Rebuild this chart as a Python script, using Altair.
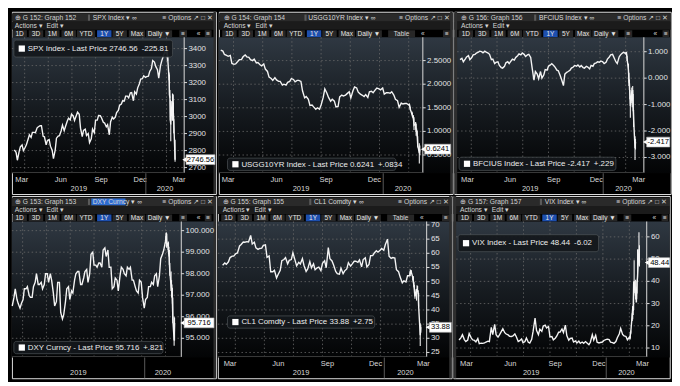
import altair as alt
import pandas as pd

# ---------------- sampling dates (Tue/Fri to Feb 18 2020, then daily) ----------------
ORIGIN = pd.Timestamp("2020-01-01")
base_dates = pd.date_range("2019-03-01", "2020-02-18", freq="W-FRI").union(
    pd.date_range("2019-03-01", "2020-02-18", freq="W-TUE"))
daily_dates = pd.bdate_range("2020-02-19", "2020-03-10")

# ---------------- series values read from the screens ----------------
spx_base = [2804, 2790, 2743, 2792, 2822, 2833, 2800, 2818, 2834,
            2867, 2893, 2878, 2907, 2907, 2905, 2934, 2940, 2946,
            2946, 2884, 2881, 2834, 2860, 2865, 2826, 2802, 2752,
            2803, 2873, 2885, 2887, 2917, 2950, 2917, 2942,
            2973, 2990, 2980, 3014, 3004, 2977, 3005, 3026, 3013,
            2932, 2882, 2919, 2926, 2889, 2900, 2847, 2869, 2926,
            2906, 2979, 2979, 3007, 3006, 2992, 2966, 2962,
            2940, 2952, 2893, 2970, 2996, 2986, 2996, 3023, 3036,
            3067, 3074, 3093, 3092, 3120, 3120, 3110, 3140, 3141,
            3093, 3146, 3132, 3169, 3193, 3221, 3223, 3240, 3231,
            3235, 3238, 3265, 3283, 3330, 3321, 3295, 3276, 3226,
            3298, 3328, 3358, 3380, 3370]
spx_daily = [3386, 3373, 3338, 3226, 3128, 3116, 2979, 2954, 3090, 3003, 3130, 3024, 2972.37, 2746.56]
spx_hi = [3393, 3385, 3360, 3259, 3247, 3156, 3097, 2959, 3091, 3136, 3130, 3083, 2985, 2863]
spx_lo = [3378, 3328, 3328, 3214, 3118, 3108, 2977, 2855, 2977, 2976, 3035, 2999, 2902, 2734]

ust_base = [2.72, 2.70, 2.63, 2.61, 2.59, 2.61, 2.44, 2.42, 2.43,
            2.48, 2.52, 2.52, 2.58, 2.62, 2.58, 2.57, 2.52, 2.50,
            2.53, 2.45, 2.46, 2.41, 2.39, 2.43, 2.32, 2.27, 2.15,
            2.12, 2.08, 2.14, 2.09, 2.06, 2.06, 1.98, 2.00,
            1.98, 2.04, 2.06, 2.12, 2.10, 2.05, 2.08, 2.08, 2.06,
            1.86, 1.71, 1.74, 1.68, 1.55, 1.56, 1.52, 1.47, 1.50,
            1.47, 1.56, 1.72, 1.90, 1.81, 1.72, 1.64, 1.68,
            1.64, 1.52, 1.53, 1.73, 1.77, 1.75, 1.77, 1.80, 1.84,
            1.71, 1.86, 1.94, 1.92, 1.83, 1.79, 1.77, 1.74, 1.78,
            1.72, 1.84, 1.85, 1.82, 1.88, 1.92, 1.90, 1.88, 1.92,
            1.79, 1.82, 1.82, 1.81, 1.84, 1.77, 1.68, 1.65, 1.51,
            1.60, 1.58, 1.59, 1.59, 1.56]
ust_daily = [1.57, 1.52, 1.47, 1.37, 1.33, 1.31, 1.26, 1.13, 1.16, 1.00, 1.00, 0.91, 0.71, 0.5407, 0.6241]
ust_hi = [1.59, 1.57, 1.52, 1.42, 1.40, 1.35, 1.34, 1.30, 1.20, 1.16, 1.06, 1.02, 0.90, 0.75, 0.70]
ust_lo = [1.55, 1.51, 1.45, 1.36, 1.30, 1.29, 1.25, 1.03, 1.04, 0.91, 0.95, 0.89, 0.66, 0.32, 0.50]

bfc_base = [0.70, 0.75, 0.62, 0.72, 0.80, 0.85, 0.70, 0.78, 0.88,
            0.90, 0.95, 0.98, 1.02, 1.00, 0.96, 1.02, 0.98, 0.95,
            0.90, 0.70, 0.72, 0.55, 0.60, 0.62, 0.48, 0.40, 0.38,
            0.45, 0.58, 0.62, 0.55, 0.65, 0.72, 0.68, 0.78,
            0.85, 0.92, 0.88, 0.95, 0.90, 0.82, 0.88, 0.90, 0.78,
            0.40, -0.08, 0.25, 0.15, -0.02, 0.25, 0.00, 0.12, 0.32,
            0.30, 0.45, 0.50, 0.55, 0.48, 0.42, 0.30, 0.28,
            0.10, -0.05, -0.28, 0.15, 0.22, 0.25, 0.30, 0.38, 0.42,
            0.48, 0.45, 0.50, 0.42, 0.48, 0.40, 0.38, 0.45, 0.42,
            0.35, 0.48, 0.45, 0.55, 0.58, 0.62, 0.60, 0.65, 0.62,
            0.55, 0.60, 0.72, 0.80, 0.88, 0.90, 0.78, 0.62, 0.55,
            0.80, 0.88, 0.95, 0.98, 0.92]
bfc_daily = [0.98, 0.90, 0.75, 0.30, -0.15, -0.20, -0.65, -1.05, -0.50, -0.85, -0.45, -1.10, -1.55, -2.646, -2.417]
bfc_hi = [1.00, 0.98, 0.85, 0.55, 0.20, -0.05, -0.45, -0.70, -0.35, -0.45, -0.30, -0.60, -1.20, -2.20, -2.30]
bfc_lo = [0.90, 0.85, 0.65, 0.20, -0.30, -0.45, -0.80, -1.50, -0.95, -1.10, -0.80, -1.25, -1.85, -3.10, -2.70]

dxy_base = [96.5, 96.9, 97.3, 96.8, 96.6, 96.4, 96.6, 96.8, 97.3,
            97.3, 97.4, 97.0, 96.9, 96.9, 97.4, 97.6, 98.0, 97.5,
            97.5, 97.6, 97.3, 97.5, 98.0, 98.0, 97.6, 98.0, 97.7,
            97.1, 96.5, 96.7, 97.6, 97.6, 96.2, 95.9, 96.1,
            96.7, 97.3, 97.4, 96.8, 97.2, 97.1, 97.7, 98.0, 98.1,
            98.1, 97.5, 97.5, 97.8, 98.1, 98.2, 97.6, 98.0, 98.9,
            99.0, 98.4, 98.4, 98.3, 98.5, 98.5, 98.3, 99.1,
            99.2, 98.8, 99.1, 98.3, 98.3, 97.3, 97.4, 97.8, 97.7,
            97.2, 97.9, 98.3, 98.2, 98.0, 97.9, 98.3, 98.2, 98.3,
            97.7, 97.7, 97.4, 97.2, 97.1, 97.7, 97.6, 96.9, 96.4,
            96.8, 96.9, 97.4, 97.4, 97.6, 97.5, 97.9, 98.0, 97.4,
            97.9, 98.7, 98.9, 99.1, 99.5]
dxy_daily = [99.7, 99.9, 99.3, 99.4, 99.0, 99.1, 98.5, 98.1, 97.4, 97.2, 97.3, 96.7, 95.9, 94.895, 95.716]
dxy_hi = [99.75, 99.91, 99.85, 99.50, 99.45, 99.25, 99.10, 98.50, 98.10, 97.70, 97.50, 97.35, 96.90, 96.00, 95.95]
dxy_lo = [99.40, 99.60, 99.20, 99.10, 98.90, 98.80, 98.40, 97.90, 97.20, 96.90, 96.90, 96.60, 95.70, 94.65, 94.90]

cl_base = [55.8, 56.6, 56.1, 57.0, 58.5, 59.0, 59.0, 59.9, 60.1,
           62.6, 63.1, 64.0, 63.9, 64.1, 64.0, 66.3, 63.3, 63.9,
           61.9, 61.4, 61.7, 61.8, 62.8, 63.0, 58.6, 59.1, 53.5,
           53.5, 54.0, 51.3, 52.5, 54.0, 57.4, 57.8, 58.5,
           56.3, 57.5, 57.8, 60.2, 57.6, 55.6, 56.8, 56.2, 58.1,
           55.7, 53.6, 54.5, 57.1, 54.9, 56.3, 54.2, 54.9, 55.1,
           53.9, 56.5, 57.4, 54.9, 62.0, 58.1, 57.3, 55.9,
           53.6, 52.8, 52.6, 54.7, 52.8, 53.8, 54.5, 56.7, 55.5,
           56.2, 57.2, 57.2, 56.8, 57.7, 55.2, 57.8, 58.4, 55.2,
           56.1, 59.2, 59.2, 60.1, 60.9, 60.4, 61.1, 61.7, 61.1,
           63.1, 65.0, 59.0, 58.2, 58.5, 58.3, 54.2, 53.5, 51.6,
           49.6, 50.3, 49.9, 52.1, 52.1]
cl_daily = [53.3, 53.8, 53.4, 51.4, 49.9, 48.7, 47.1, 44.8, 46.8, 47.2, 46.8, 45.9, 41.3, 31.13, 33.88]
cl_hi = [53.9, 54.0, 54.0, 52.0, 51.9, 50.0, 48.8, 47.3, 47.4, 48.7, 48.5, 47.0, 46.0, 35.3, 34.9]
cl_lo = [52.0, 52.8, 52.8, 50.4, 49.7, 48.0, 45.8, 44.0, 43.3, 46.3, 46.3, 45.6, 41.1, 27.3, 32.0]

vix_base = [13.6, 14.7, 16.0, 13.8, 12.9, 13.6, 16.5, 14.7, 13.7,
            13.4, 12.8, 14.3, 12.0, 12.2, 12.1, 12.3, 12.7, 13.1,
            12.9, 19.3, 16.0, 20.6, 16.0, 14.9, 15.9, 17.5, 18.7,
            16.9, 16.3, 15.9, 15.3, 15.2, 15.4, 16.3, 15.1,
            12.9, 13.3, 14.1, 12.4, 12.9, 14.5, 12.6, 12.2, 13.9,
            17.6, 23.5, 18.0, 16.0, 18.5, 17.5, 19.9, 20.3, 19.0,
            19.7, 15.0, 15.2, 13.7, 14.4, 15.3, 17.1, 17.2,
            18.6, 17.0, 20.3, 15.6, 13.5, 14.3, 14.5, 12.7, 13.2,
            12.3, 13.1, 12.1, 12.7, 12.1, 12.9, 12.3, 11.5, 12.6,
            16.0, 13.6, 15.7, 12.6, 12.3, 12.5, 12.7, 13.4, 13.8,
            14.0, 13.8, 12.6, 12.4, 12.1, 12.9, 14.6, 16.3, 18.8,
            16.1, 15.5, 15.2, 13.7, 14.8]
vix_daily = [14.4, 15.6, 17.1, 25.0, 27.9, 27.6, 39.2, 40.1, 33.4, 36.8, 32.0, 39.6, 41.9, 54.46, 48.44]
vix_hi = [15.0, 17.1, 17.9, 25.6, 28.9, 28.6, 39.6, 49.5, 40.7, 37.6, 36.2, 40.1, 54.4, 62.1, 56.2]
vix_lo = [13.9, 14.3, 16.4, 22.2, 22.9, 24.8, 27.1, 34.7, 31.8, 30.5, 30.6, 34.5, 39.9, 47.2, 46.7]

# ---------------- texts ----------------
graphs = ["G 152: Graph 152", "G 154: Graph 154", "G 156: Graph 156",
          "G 153: Graph 153", "G 155: Graph 155", "G 157: Graph 157"]
tickers = ["SPX Index", "USGG10YR Index", "BFCIUS Index", "DXY Curncy", "CL1 Comdty", "VIX Index"]
legend_texts = ["SPX Index - Last Price 2746.56\u2002-225.81",
                "USGG10YR Index - Last Price 0.6241\u2002+.0834",
                "BFCIUS Index - Last Price -2.417\u2002+.229",
                "DXY Curncy - Last Price 95.716\u2002+.821",
                "CL1 Comdty - Last Price 33.88\u2002+2.75",
                "VIX Index - Last Price 48.44\u2002-6.02"]
last_labels = ["2746.56", "0.6241", "-2.417", "95.716", "33.88", "48.44"]
tick_values = [[2700, 2800, 2900, 3000, 3100, 3200, 3300, 3400],
               [0.5, 1.0, 1.5, 2.0, 2.5],
               [-3, -2, -1, 0, 1],
               [95, 96, 97, 98, 99, 100],
               [25, 30, 35, 40, 45, 50, 55, 60, 65, 70],
               [10, 20, 30, 40, 50, 60]]
tick_labels = [["2700", "2800", "2900", "3000", "3100", "3200", "3300", "3400"],
               ["0.5000", "1.0000", "1.5000", "2.0000", "2.5000"],
               ["-3.000", "-2.000", "-1.000", "0.000", "1.000"],
               ["95.000", "96.000", "97.000", "98.000", "99.000", "100.000"],
               ["25", "30", "35", "40", "45", "50", "55", "60", "65", "70"],
               ["10", "20", "30", "40", "50", "60"]]
month_days = [-306, -214, -122, -31, 60]
month_names = ["Mar", "Jun", "Sep", "Dec", "Mar"]
vgrid_days = [-282, -227, -172, -117, -62, -7, 48]

series = [(spx_base, spx_daily, spx_hi, spx_lo), (ust_base, ust_daily, ust_hi, ust_lo),
          (bfc_base, bfc_daily, bfc_hi, bfc_lo), (dxy_base, dxy_daily, dxy_hi, dxy_lo),
          (cl_base, cl_daily, cl_hi, cl_lo), (vix_base, vix_daily, vix_hi, vix_lo)]

# ---------------- layout (reference pixels, scaled to fit) ----------------
SX = 664 / 680
SY = 370 / 386
def sx(v): return v * SX
def sy(v): return v * SY

FONT = "Liberation Sans, Arial, sans-serif"
PH = 193
CFG = [
    dict(col=0, W=212, L=0, R=179, xm=(2.5, 166), yv=(2700, 3400), yp=(165, 39), sep=79, tk=84, tx=3, s=8,
         ex="A", months=5, leg=(2, 30, 167, 48), price=(181, 211), hl=False),
    dict(col=1, W=243, L=0, R=212, xm=(2, 204), yv=(0.5, 2.5), yp=(151.7, 51.7), sep=89, tk=93, tx=5, s=11,
         ex="B", months=4, leg=(9, 155, 184, 168), price=(214, 241), hl=False),
    dict(col=2, W=225, L=3, R=197, xm=(6, 184), yv=(-3, 1), yp=(154.3, 42.3), sep=83, tk=88, tx=7, s=12,
         ex="C", months=5, leg=(5, 154, 168, 168), price=(200, 224), hl=False),
    dict(col=0, W=212, L=0, R=176, xm=(0.3, 165), yv=(95, 100), yp=(150.7, 36.7), sep=79, tk=84, tx=3, s=8,
         ex="A", months=0, leg=(2, 154, 157, 167), price=(179, 210), hl=True),
    dict(col=1, W=243, L=0, R=217, xm=(5, 206), yv=(25, 70), yp=(165.7, 30.7), sep=95, tk=100, tx=5, s=11,
         ex="B", months=5, leg=(10, 127, 163, 140), price=(220, 243), hl=False),
    dict(col=2, W=225, L=3, R=201, xm=(6, 189), yv=(10, 60), yp=(161, 43.3), sep=90, tk=95, tx=7, s=12,
         ex="C", months=5, leg=(5, 41, 151, 59), price=(203, 226), hl=False),
]
EXTRAS = {"A": [("\u2261", 178, 8), ("\u00ab", 194, 0), ("\u2261", 204, 7)],
          "B": [("Table", 190, 28), ("\u00ab", 212, 0), ("\u2261", 237, 8)],
          "C": [("\u2261", 181, 8), ("\u00ab", 209, 0), ("\u2261", 220, 7)]}
BTNS = [("1D", 0, 15), ("3D", 17, 15), ("1M", 34, 15), ("6M", 51, 15), ("YTD", 69, 19),
        ("1Y", 88, 15), ("5Y", 104, 15), ("Max", 122, 17), ("Daily \u25BC", 145, 27)]

GRAD = {"gradient": "linear", "x1": 0, "y1": 0, "x2": 0, "y2": 1,
        "stops": [{"offset": 0, "color": "#2f3842"}, {"offset": 0.5, "color": "#171c21"},
                  {"offset": 1, "color": "#030405"}]}
ONE = pd.DataFrame({"k": [0]})
HS = 6.8   # header text size


def days(idx):
    return [(d - ORIGIN).days for d in idx]


def box(a, b, c, d, col, **kw):
    """A fixed chrome rectangle (window frame, buttons), in reference pixels."""
    return alt.Chart(ONE).mark_rect(fill=col, strokeWidth=0, **kw).encode(
        x=alt.value(sx(a)), x2=alt.value(sx(b)), y=alt.value(sy(c)), y2=alt.value(sy(d)))


def text_layer(rows, align, baseline="alphabetic"):
    df = pd.DataFrame([{"x": sx(a), "y": sy(b), "t": t, "c": col, "s": s} for a, b, t, col, s in rows])
    return alt.Chart(df).mark_text(align=align, baseline=baseline, clip=True).encode(
        x=alt.X("x:Q", scale=None), y=alt.Y("y:Q", scale=None), text="t:N",
        color=alt.Color("c:N", scale=None), size=alt.Size("s:Q", scale=None))


def panel(k):
    c = CFG[k]
    W, L, R = c["W"], c["L"], c["R"]
    w, h = sx(W), sy(PH)
    m19, m20 = c["xm"]
    pp = (m20 - m19) / 366.0
    xsc = alt.Scale(domain=[-306, 60], range=[sx(m19), sx(m20)], zero=False, nice=False)
    ysc = alt.Scale(domain=list(c["yv"]), range=[sy(c["yp"][0]), sy(c["yp"][1])], zero=False, nice=False)
    X = alt.X("day:Q", scale=xsc, axis=None)

    base, daily, hi, lo = series[k]
    bd, dd = days(base_dates), days(daily_dates)
    nb, nd = min(len(bd), len(base)), min(len(dd), len(daily))
    line_df = pd.DataFrame({"day": bd[:nb] + dd[:nd], "v": list(base[:nb]) + list(daily[:nd])})
    n2 = min(len(dd), len(hi), len(lo))
    bar_df = pd.DataFrame({"day": dd[:n2], "lo": lo[:n2], "hi": hi[:n2]})
    last_df = pd.DataFrame({"day": [line_df["day"].iloc[-1]], "v": [line_df["v"].iloc[-1]],
                            "t": [last_labels[k]]})
    tick_df = pd.DataFrame({"v": tick_values[k], "t": tick_labels[k]})
    nm = c["months"]
    mon_df = pd.DataFrame({"day": month_days[:nm], "t": month_names[:nm]})
    dL = -306 + (L - m19) / pp
    dR = -306 + (R - m19) / pp
    yr_df = pd.DataFrame({"day": [dL / 2.0, dR / 2.0], "t": ["2019", "2020"]})
    vg_df = pd.DataFrame({"day": vgrid_days})

    layers = []
    # plot background gradient
    layers.append(alt.Chart(ONE).mark_rect(fill=GRAD).encode(
        x=alt.value(0), x2=alt.value(w), y=alt.value(sy(27)), y2=alt.value(sy(171))))

    # window chrome
    layers.append(box(0, W, 1.5, 10.5, "#2a2a2a"))
    layers.append(box(0, W, 10.5, 19, "#1b1b1b"))
    layers.append(box(c["sep"], c["sep"] + 2.2, 3, 9.5, "#5a5a5a"))
    if c["hl"]:
        layers.append(box(c["tk"] - 1.5, c["tk"] + 34, 2.6, 9.8, "#2d6bd0"))
    btn_text = []
    s = c["s"]
    for lab, off, bw in BTNS:
        cx = s + off
        layers.append(box(cx - bw / 2, cx + bw / 2, 19.6, 26.8, "#1d4fae" if lab == "1Y" else "#272727"))
        btn_text.append((cx, 25.5, lab, "#e6e6e6", 6.6))
    for lab, cx, bw in EXTRAS[c["ex"]]:
        if bw:
            layers.append(box(cx - bw / 2, cx + bw / 2, 19.6, 26.8, "#272727"))
        btn_text.append((cx, 25.5, lab, "#d8d8d8", 6.6))
    layers.append(box(R - 0.5, R + 0.6, 27, 170.5, "#cfcfcf"))
    layers.append(box(L, R, 169.8, 170.6, "#4a4a4a"))
    if c["col"] < 2:
        layers.append(box(W - 2.5, W, 0, PH, "#2e2e2e"))
    if L > 0:
        layers.append(box(0, L, 0, PH, "#2e2e2e"))

    # grid
    layers.append(alt.Chart(vg_df).mark_rule(color="#6a6a6a", strokeDash=[1.5, 2.5], strokeWidth=0.8).encode(
        x=X, y=alt.value(sy(27)), y2=alt.value(sy(169.5))))
    layers.append(alt.Chart(tick_df).mark_rule(color="#6a6a6a", strokeDash=[1.5, 2.5], strokeWidth=0.8).encode(
        y=alt.Y("v:Q", scale=ysc, axis=None), x=alt.value(sx(L)), x2=alt.value(sx(R))))

    # data: daily high-low bars and price line
    layers.append(alt.Chart(bar_df).mark_rule(color="#f2f2f2", strokeWidth=1.1).encode(
        x=X, y=alt.Y("lo:Q", scale=ysc, axis=None), y2=alt.Y2("hi")))
    layers.append(alt.Chart(line_df).mark_line(color="#f4f4f4", strokeWidth=1.4).encode(
        x=X, y=alt.Y("v:Q", scale=ysc, axis=None)))

    # y axis ticks and labels
    layers.append(alt.Chart(tick_df).mark_rule(color="#dcdcdc", strokeWidth=1).encode(
        y=alt.Y("v:Q", scale=ysc, axis=None), x=alt.value(sx(R)), x2=alt.value(sx(R + 3))))
    layers.append(alt.Chart(tick_df).mark_text(align="left", baseline="middle", color="#e4e4e4",
                                               fontSize=8.0, clip=True).encode(
        y=alt.Y("v:Q", scale=ysc, axis=None), x=alt.value(sx(R + 4.5)), text="t:N"))

    # x axis labels
    if nm:
        layers.append(alt.Chart(mon_df).mark_text(align="left", baseline="alphabetic", color="#d8d8d8",
                                                  fontSize=7.6, dx=1, clip=True).encode(
            x=X, y=alt.value(sy(180.5)), text="t:N"))
    layers.append(alt.Chart(yr_df).mark_text(align="center", baseline="alphabetic", color="#d8d8d8",
                                             fontSize=7.6, clip=True).encode(
        x=X, y=alt.value(sy(190)), text="t:N"))
    layers.append(alt.Chart(pd.DataFrame({"day": [0]})).mark_rule(color="#5a5a5a", strokeWidth=1).encode(
        x=X, y=alt.value(sy(171)), y2=alt.value(sy(PH))))

    # legend box
    lx0, ly0, lx1, ly1 = c["leg"]
    layers.append(alt.Chart(ONE).mark_rect(cornerRadius=2.5, fill="#14181c", stroke="#4c5156",
                                           strokeWidth=0.8, opacity=0.93).encode(
        x=alt.value(sx(lx0)), x2=alt.value(sx(lx1)), y=alt.value(sy(ly0)), y2=alt.value(sy(ly1))))
    ym = (ly0 + ly1) / 2
    layers.append(box(lx0 + 5, lx0 + 11.5, ym - 3.3, ym + 3.3, "#ffffff"))
    layers.append(text_layer([(lx0 + 14.5, ym + 0.3, legend_texts[k], "#ececec", 8.0)], "left", "middle"))

    # last price marker
    px0, px1 = c["price"]
    layers.append(alt.Chart(last_df).mark_rect(fill="#ffffff", stroke="#bdbdbd", strokeWidth=0.6,
                                               yOffset=-5, y2Offset=5, clip=True).encode(
        x=alt.value(sx(px0)), x2=alt.value(sx(px1)), y=alt.Y("v:Q", scale=ysc, axis=None), y2=alt.Y2("v")))
    layers.append(alt.Chart(last_df).mark_point(shape="triangle-left", filled=True, color="#ffffff",
                                                size=22, opacity=1).encode(
        x=alt.value(sx(px0) - 1.8), y=alt.Y("v:Q", scale=ysc, axis=None)))
    layers.append(alt.Chart(last_df).mark_text(align="center", baseline="middle", color="#000000",
                                               fontSize=7.7, clip=True).encode(
        x=alt.value(sx((px0 + px1) / 2)), y=alt.Y("v:Q", scale=ysc, axis=None), text="t:N"))

    # header texts
    left_rows = [(c["tx"], 8.8, "\u2295 " + graphs[k], "#d2d2d2", HS),
                 (c["tk"], 8.8, tickers[k] + " \u25BE  \u221E", "#dadada", HS),
                 (c["tx"], 17.2, "Actions \u25BE", "#d6d6d6", HS),
                 (c["tx"] + 33, 17.2, "Edit \u25BE", "#d6d6d6", HS)]
    layers.append(text_layer(left_rows, "left"))
    layers.append(text_layer([(W - 3, 8.8, "\u2261 Options  \u2197 \u25A1 \u2715", "#d2d2d2", HS)], "right"))
    layers.append(text_layer(btn_text, "center"))

    return alt.layer(*layers).resolve_scale(
        x="independent", y="independent", color="independent", size="independent"
    ).properties(width=w, height=h)


row1 = alt.hconcat(panel(0), panel(1), panel(2), spacing=0)
row2 = alt.hconcat(panel(3), panel(4), panel(5), spacing=0)
chart = alt.vconcat(row1, row2, spacing=0).properties(padding=0, background="#000000")
chart = chart.configure_view(strokeWidth=0).configure_text(font=FONT).configure(font=FONT)

chart.save("out.html", embed_options={"renderer": "svg", "actions": False})
